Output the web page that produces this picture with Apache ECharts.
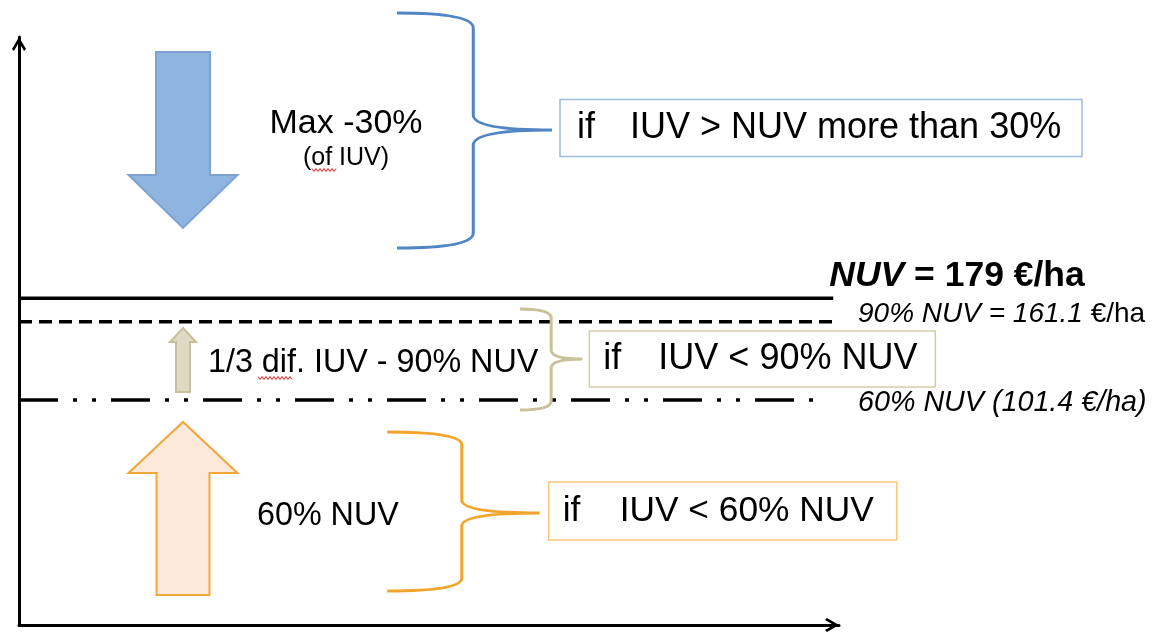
<!DOCTYPE html>
<html>
<head>
<meta charset="utf-8">
<script src="https://cdn.jsdelivr.net/npm/echarts@6/dist/echarts.min.js"></script>
<style>
  html, body { margin: 0; padding: 0; background: #fff; }
  #container { width: 1160px; height: 632px; }
</style>
</head>
<body>
<div id="container"></div>
<script>
// reference levels on the value axis (€/ha)
const levelValues = [179, 161.1, 101.4];
const levelLabels = ["NUV = 179 €/ha", "90% NUV = 161.1 €/ha", "60% NUV (101.4 €/ha)"];
const levelEnds = [99.3, 99.5, 98];

// adjustment arrows, start -> end on the €/ha scale
const arrowLabels = ["Max -30%", "1/3 dif. IUV - 90% NUV", "60% NUV"];
const arrowFrom = [366.6, 107.5, -47.1];
const arrowTo = [232.5, 156.3, 84.7];

// braces for each case, top / bottom / tip on the €/ha scale
const braceTop = [396.3, 170.8, 77];
const braceBottom = [217.2, 93.8, -44.1];
const braceTip = [307.1, 132.7, 15.3];
const conditions = ["IUV > NUV more than 30%", "IUV < 90% NUV", "IUV < 60% NUV"];

const FONT = '"Liberation Sans", Arial, sans-serif';
const chevron = "path://M5,0 L10,8.6 L8.6,10 L5,3.8 L1.4,10 L0,8.6 Z";

const arrowStyles = [
  { x: 20, shaft: 54, head: 109, headLen: 53, fill: "#8eb4e0", stroke: "#7ea3d2" },
  { x: 20, shaft: 14, head: 26, headLen: 14, fill: "#dedac4", stroke: "#c7c09c" },
  { x: 20, shaft: 53, head: 109, headLen: 51, fill: "#fde9d9", stroke: "#f2a73b" }
];
const braceStyles = [
  { xEnd: 46.1, xSpine: 55.4, xTip: 65.0, r: 15, color: "#4f86c3" },
  { xEnd: 61.1, xSpine: 64.9, xTip: 68.7, r: 9, color: "#c9c199" },
  { xEnd: 44.9, xSpine: 54.0, xTip: 63.5, r: 13, color: "#f2a42c" }
];
const boxStyles = [
  { gap: 8, dy: -2, w: 522, h: 57, ifDx: 17, textDx: 70, font: 36, border: "#9dbbde" },
  { gap: 7, dy: 0, w: 346, h: 56, ifDx: 14, textDx: 69, font: 36, border: "#d3cca9" },
  { gap: 9, dy: -2, w: 348, h: 58, ifDx: 14, textDx: 71, font: 35.3, border: "#f8c77c" }
];
const lineTypes = ["solid", [13, 7], [39, 15, 4, 15, 4, 15]];

function renderArrow(params, api) {
  const s = arrowStyles[params.dataIndex];
  const p0 = api.coord([s.x, api.value(1)]);
  const p1 = api.coord([s.x, api.value(2)]);
  const dir = p1[1] > p0[1] ? 1 : -1;
  const cx = p0[0], hs = s.shaft / 2, hh = s.head / 2;
  const by = p1[1] - dir * s.headLen;
  return {
    type: "polygon",
    shape: { points: [[cx - hs, p0[1]], [cx + hs, p0[1]], [cx + hs, by], [cx + hh, by],
      [cx, p1[1]], [cx - hh, by], [cx - hs, by]] },
    style: { fill: s.fill, stroke: s.stroke, lineWidth: 2 }
  };
}

function renderBrace(params, api) {
  const s = braceStyles[params.dataIndex];
  const xe = api.coord([s.xEnd, 0])[0];
  const xs = api.coord([s.xSpine, 0])[0];
  const xt = api.coord([s.xTip, 0])[0];
  const yT = api.coord([0, api.value(1)])[1];
  const yB = api.coord([0, api.value(2)])[1];
  const yM = api.coord([0, api.value(3)])[1];
  const r = s.r;
  const d = `M${xe},${yT} Q${xs},${yT} ${xs},${yT + r} L${xs},${yM - r} Q${xs},${yM} ${xt},${yM}` +
    ` Q${xs},${yM} ${xs},${yM + r} L${xs},${yB - r} Q${xs},${yB} ${xe},${yB}`;
  return {
    type: "path",
    shape: { pathData: d },
    style: { fill: null, stroke: s.color, lineWidth: 3 }
  };
}

const chart = echarts.init(document.getElementById("container"));

const series = levelValues.map((v, i) => ({
  name: levelLabels[i],
  type: "line",
  data: [[0, v], [levelEnds[i], v]],
  showSymbol: false,
  silent: true,
  lineStyle: { color: "#000", width: 3.5, type: lineTypes[i], cap: "butt" },
  z: 3
}));

series.push({
  type: "custom",
  name: "arrows",
  renderItem: renderArrow,
  data: arrowFrom.map((v, i) => [arrowStyles[i].x, v, arrowTo[i]]),
  encode: { x: 0, y: [1, 2] },
  clip: false,
  z: 4
});

series.push({
  type: "custom",
  name: "braces",
  renderItem: renderBrace,
  data: braceTop.map((v, i) => [braceStyles[i].xSpine, v, braceBottom[i], braceTip[i]]),
  encode: { x: 0, y: [1, 2, 3] },
  clip: false,
  z: 4
});

const option = {
  animation: false,
  backgroundColor: "#fff",
  grid: { left: 19, right: 321, top: 37, bottom: 7, outerBoundsMode: "none" },
  xAxis: {
    type: "value", min: 0, max: 100,
    axisLine: { show: true, onZero: false, symbol: ["none", chevron], symbolSize: [15, 14],
      symbolOffset: [0, -7], lineStyle: { color: "#000", width: 3 } },
    axisTick: { show: false }, axisLabel: { show: false }, splitLine: { show: false }
  },
  yAxis: {
    type: "value", min: -70, max: 378,
    axisLine: { show: true, onZero: false, symbol: ["none", chevron], symbolSize: [15, 14],
      symbolOffset: [0, -7], lineStyle: { color: "#000", width: 3 } },
    axisTick: { show: false }, axisLabel: { show: false }, splitLine: { show: false }
  },
  series: series
};

chart.setOption(option);

// text, boxes and labels placed from the scale positions
const px = (x, y) => chart.convertToPixel({ gridIndex: 0 }, [x, y]);
const graphic = [];

function squiggle(x0, x1, y) {
  const pts = [];
  for (let x = x0, k = 0; x <= x1; x += 2, k++) pts.push([x, y + (k % 2 ? 1.5 : -1.5)]);
  return { type: "polyline", shape: { points: pts }, style: { stroke: "#e02020", lineWidth: 1, fill: null }, z: 10 };
}

// level labels
const l0 = px(levelEnds[0], levelValues[0]);
graphic.push({ type: "text", x: l0[0] - 4, y: l0[1] - 22, z: 10,
  style: { text: "{i|NUV}" + levelLabels[0].slice(3), font: "bold 35.5px " + FONT, fill: "#000",
    verticalAlign: "middle",
    rich: { i: { fontStyle: "italic", fontWeight: "bold", fontSize: 35.5, fontFamily: FONT } } } });
const l1 = px(100, levelValues[1]);
graphic.push({ type: "text", x: l1[0] + 19, y: l1[1] - 7, z: 10,
  style: { text: levelLabels[1].replace(" €/ha", " {u|€/ha}"), font: "italic 28px " + FONT, fill: "#000",
    verticalAlign: "middle",
    rich: { u: { fontStyle: "normal", fontSize: 28, fontFamily: FONT } } } });
const l2 = px(100, levelValues[2]);
graphic.push({ type: "text", x: l2[0] + 19, y: l2[1] + 3, z: 10,
  style: { text: levelLabels[2], font: "italic 28.7px " + FONT, fill: "#000", verticalAlign: "middle" } });

// arrow captions
graphic.push({ type: "text", x: 346, y: 124, z: 10,
  style: { text: arrowLabels[0], font: "34px " + FONT, fill: "#000", align: "center", verticalAlign: "middle" } });
graphic.push({ type: "text", x: 346, y: 158, z: 10,
  style: { text: "(of IUV)", font: "25px " + FONT, fill: "#000", align: "center", verticalAlign: "middle" } });
graphic.push(squiggle(312, 336, 170));
graphic.push({ type: "text", x: 208, y: 363, z: 10,
  style: { text: arrowLabels[1], font: "32.3px " + FONT, fill: "#000", verticalAlign: "middle" } });
graphic.push(squiggle(258, 292, 378));
graphic.push({ type: "text", x: 257, y: 516, z: 10,
  style: { text: arrowLabels[2], font: "32.3px " + FONT, fill: "#000", verticalAlign: "middle" } });

// condition boxes hanging off each brace tip
conditions.forEach((c, i) => {
  const s = boxStyles[i];
  const tip = px(braceStyles[i].xTip, braceTip[i]);
  const cy = tip[1] + s.dy;
  const bx = tip[0] + s.gap, by = cy - s.h / 2;
  graphic.push({ type: "rect", shape: { x: bx, y: by, width: s.w, height: s.h }, z: 9,
    style: { fill: "#fff", stroke: s.border, lineWidth: 1.5 } });
  graphic.push({ type: "text", x: bx + s.ifDx, y: cy, z: 10,
    style: { text: "if", font: s.font + "px " + FONT, fill: "#000", verticalAlign: "middle" } });
  graphic.push({ type: "text", x: bx + s.textDx, y: cy, z: 10,
    style: { text: c, font: s.font + "px " + FONT, fill: "#000", verticalAlign: "middle" } });
});

chart.setOption({ graphic: graphic });
</script>
</body>
</html>
